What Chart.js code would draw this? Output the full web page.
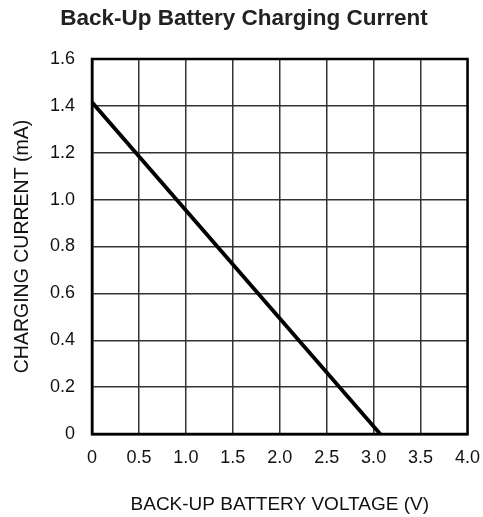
<!DOCTYPE html>
<html>
<head>
<meta charset="utf-8">
<script src="https://cdn.jsdelivr.net/npm/chart.js@4/dist/chart.umd.min.js"></script>
<style>
  html, body { margin: 0; padding: 0; background: #fff; }
  #wrap { width: 483px; height: 517px; }
</style>
</head>
<body>
<div id="wrap"><canvas id="chargeChart" width="483" height="517"></canvas></div>
<script>
// Charging current vs battery voltage
const voltage = [0, 3.07];
const current = [1.415, 0];

const chartTitle = 'Back-Up Battery Charging Current';
const xTitle = 'BACK-UP BATTERY VOLTAGE (V)';
const yTitle = 'CHARGING CURRENT (mA)';

Chart.defaults.font.family = "'Liberation Sans', Arial, sans-serif";
Chart.defaults.color = '#111';

const ctx = document.getElementById('chargeChart').getContext('2d');

new Chart(ctx, {
    type: 'scatter',
    data: {
        datasets: [{
            data: voltage.map((v, i) => ({ x: v, y: current[i] })),
            showLine: true,
            borderColor: '#000',
            borderWidth: 3.8,
            pointRadius: 0,
            tension: 0
        }]
    },
    options: {
        responsive: false,
        animation: false,
        layout: { padding: { top: 0, right: 0, bottom: 0, left: 5 } },
        plugins: {
            legend: { display: false },
            tooltip: { enabled: false },
            title: {
                display: true,
                text: chartTitle,
                color: '#222',
                font: { size: 22.5, weight: 'bold' },
                padding: { top: 5, bottom: 27 }
            }
        },
        scales: {
            x: {
                type: 'linear',
                min: 0,
                max: 4,
                ticks: {
                    stepSize: 0.5,
                    padding: 13,
                    font: { size: 18 },
                    color: '#111',
                    callback: v => v === 0 ? '0' : v.toFixed(1)
                },
                grid: { color: '#333', lineWidth: 1.5, drawTicks: false },
                border: { color: '#000', width: 2.5 },
                title: {
                    display: true,
                    text: xTitle,
                    font: { size: 19 },
                    color: '#111',
                    padding: { top: 0, bottom: 1 }
                },
                afterFit: s => { s.height = 83; s.paddingRight = 15.5; }
            },
            y: {
                min: 0,
                max: 1.6,
                ticks: {
                    stepSize: 0.2,
                    padding: 17,
                    font: { size: 18 },
                    color: '#111',
                    callback: v => v === 0 ? '0' : v.toFixed(1)
                },
                grid: { color: '#333', lineWidth: 1.5, drawTicks: false },
                border: { color: '#000', width: 2.5 },
                title: {
                    display: true,
                    text: yTitle,
                    font: { size: 19.5 },
                    color: '#111',
                    padding: { top: 6, bottom: 0 }
                },
                afterFit: s => { s.width = 87; }
            }
        }
    },
    plugins: [{
        id: 'frame',
        afterDraw(chart) {
            const a = chart.chartArea, c = chart.ctx;
            c.save();
            c.strokeStyle = '#000';
            c.lineWidth = 2.5;
            c.strokeRect(a.left, a.top, a.right - a.left, a.bottom - a.top);
            c.restore();
        }
    }]
});
</script>
</body>
</html>
